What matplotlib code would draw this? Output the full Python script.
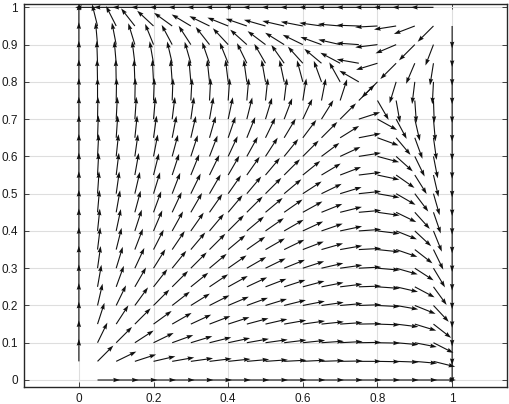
import numpy as np
import matplotlib
matplotlib.use("Agg")
import matplotlib.pyplot as plt

# grid of arrow tails
x_values = [0.0, 0.05, 0.1, 0.15, 0.2, 0.25, 0.3, 0.35, 0.4, 0.45, 0.5,
            0.55, 0.6, 0.65, 0.7, 0.75, 0.8, 0.85, 0.9, 0.95, 1.0]
y_values = [0.0, 0.05, 0.1, 0.15, 0.2, 0.25, 0.3, 0.35, 0.4, 0.45, 0.5,
            0.55, 0.6, 0.65, 0.7, 0.75, 0.8, 0.85, 0.9, 0.95, 1.0]

# arrow direction (degrees) at each grid point, rows = y (bottom to top),
# columns = x (left to right); None = no arrow (zero vector)
N = None
arrow_angle_deg = [
    [N, 0, 0, 0, 0, 0, 0, 0, 0, 0, 0, 0, 0, 0, 0, 0, 0, 0, 0, 0, N],
    [90, 45, 26, 18, 13, 10, 8, 7, 6, 5, 4, 3, 3, 2, 1, 0, -1, -2, -5, -14, -90],
    [90, 64, 45, 33, 26, 20, 17, 14, 12, 10, 8, 7, 6, 4, 3, 1, -1, -5, -11, -27, -90],
    [90, 72, 57, 45, 36, 30, 25, 21, 18, 15, 13, 10, 8, 6, 4, 1, -2, -7, -17, -38, -90],
    [90, 77, 64, 54, 45, 38, 32, 27, 23, 20, 17, 14, 11, 8, 5, 2, -3, -10, -22, -47, -90],
    [90, 80, 70, 60, 52, 45, 39, 34, 29, 25, 21, 18, 15, 11, 7, 2, -4, -13, -28, -54, -90],
    [90, 82, 73, 65, 58, 51, 45, 40, 35, 30, 26, 22, 18, 13, 8, 3, -5, -16, -33, -59, -90],
    [90, 83, 76, 69, 63, 56, 50, 45, 40, 35, 30, 26, 21, 16, 10, 3, -6, -19, -38, -64, -90],
    [90, 84, 78, 72, 67, 61, 55, 50, 45, 40, 35, 30, 25, 19, 12, 4, -7, -22, -43, -68, -90],
    [90, 85, 80, 75, 70, 65, 60, 55, 50, 45, 40, 35, 29, 22, 14, 5, -8, -26, -48, -71, -90],
    [90, 86, 82, 77, 73, 69, 64, 60, 55, 50, 45, 40, 33, 26, 17, 6, -10, -30, -53, -74, -90],
    [90, 87, 83, 80, 76, 72, 68, 64, 60, 55, 50, 45, 39, 31, 21, 7, -12, -35, -58, -77, -90],
    [90, 87, 84, 82, 79, 75, 72, 69, 65, 61, 57, 51, 45, 37, 25, 9, -15, -42, -64, -79, -90],
    [90, 88, 86, 84, 82, 79, 77, 74, 71, 68, 64, 59, 53, 45, 32, 11, -20, -50, -70, -82, -90],
    [90, 89, 87, 86, 85, 83, 82, 80, 78, 76, 73, 69, 65, 58, 45, 18, -29, -62, -77, -85, -90],
    [90, 90, 89, 89, 88, 88, 87, 87, 86, 85, 84, 83, 81, 79, 72, 45, -60, -80, -86, -88, -90],
    [90, 91, 91, 92, 93, 94, 95, 96, 97, 98, 100, 102, 105, 110, 119, 150, -135, -107, -97, -93, -90],
    [90, 92, 95, 97, 100, 103, 106, 109, 112, 116, 120, 125, 132, 140, 152, 170, -163, -135, -113, -99, -90],
    [90, 95, 101, 107, 112, 118, 123, 128, 133, 138, 143, 148, 154, 160, 167, 176, -173, -157, -135, -111, -90],
    [90, 104, 117, 128, 137, 144, 149, 154, 158, 161, 164, 167, 169, 172, 175, 178, -177, -171, -159, -135, -90],
    [N, 180, 180, 180, 180, 180, 180, 180, 180, 180, 180, 180, 180, 180, 180, 180, 180, 180, 180, 180, N],
]

x_ticks = [0, 0.2, 0.4, 0.6, 0.8, 1]
x_tick_labels = ["0", "0.2", "0.4", "0.6", "0.8", "1"]
y_ticks = [0, 0.1, 0.2, 0.3, 0.4, 0.5, 0.6, 0.7, 0.8, 0.9, 1]
y_tick_labels = ["0", "0.1", "0.2", "0.3", "0.4", "0.5", "0.6", "0.7", "0.8", "0.9", "1"]

W, H = 510, 404
fig = plt.figure(figsize=(W / 100, H / 100), dpi=100)
left, right, top, bottom = 24, 507, 4, 386.7
ax = fig.add_axes([left / W, (H - bottom) / H, (right - left) / W, (bottom - top) / H])

X, Y = np.meshgrid(np.array(x_values), np.array(y_values))
A = np.array([[np.nan if v is None else v for v in row] for row in arrow_angle_deg], dtype=float)
mask = ~np.isnan(A)
arrow_len = 0.06
U = arrow_len * np.cos(np.radians(A))
V = arrow_len * np.sin(np.radians(A))

ax.quiver(X[mask], Y[mask], U[mask], V[mask], angles='xy', scale_units='xy', scale=1,
          pivot='tail', color='#111111', width=0.0023, headlength=6, headwidth=4,
          headaxislength=5.4, zorder=3)

ax.set_xlim(-0.147, 1.147)
ax.set_ylim(-0.018, 1.009)
ax.set_xticks(x_ticks)
ax.set_xticklabels(x_tick_labels)
ax.set_yticks(y_ticks)
ax.set_yticklabels(y_tick_labels)

grid_col = '#dedede'
ax.grid(True, color=grid_col, linewidth=0.8, zorder=0)
ax.set_axisbelow(True)
edge = '#262626'
for s in ax.spines.values():
    s.set_color(edge)
    s.set_linewidth(1.0)
ax.tick_params(direction='in', length=3.5, width=0.6, color=edge, top=True, right=True,
               labelsize=8.5, labelcolor='#1a1a1a', pad=4.5)
for lab in ax.get_xticklabels() + ax.get_yticklabels():
    lab.set_fontfamily(['Liberation Sans', 'DejaVu Sans'])

fig.savefig('out.png', dpi=100)
